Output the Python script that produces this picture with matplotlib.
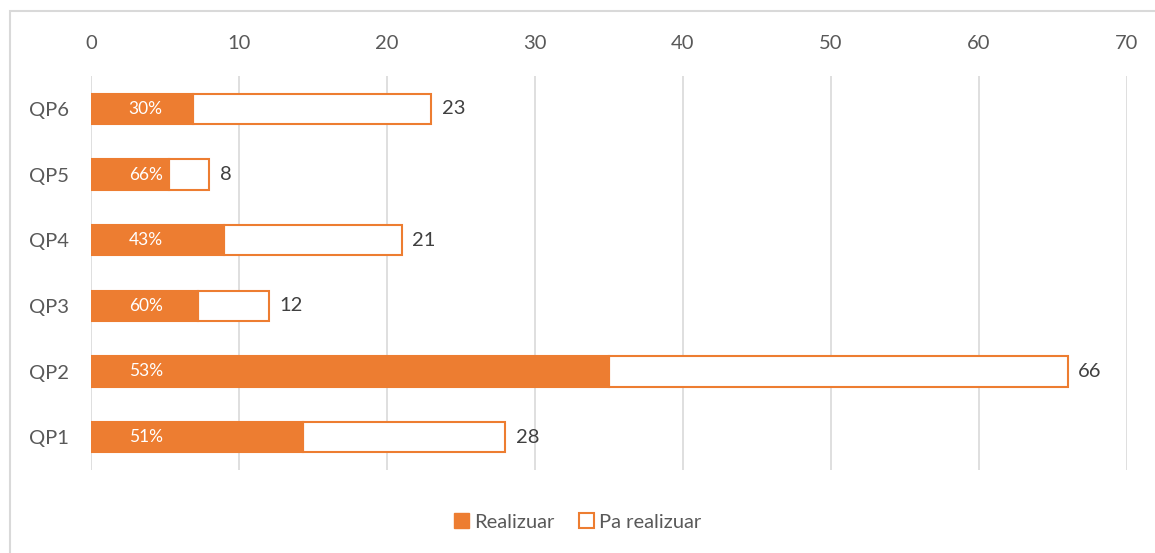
import matplotlib
matplotlib.use("Agg")
import matplotlib.pyplot as plt
from matplotlib.patches import Rectangle, Patch

categories = ["QP1", "QP2", "QP3", "QP4", "QP5", "QP6"]
realizuar = [14.3, 35.0, 7.2, 9.0, 5.3, 6.9]
totals = [28, 66, 12, 21, 8, 23]
pct_labels = ["51%", "53%", "60%", "43%", "66%", "30%"]
ticks = [0, 10, 20, 30, 40, 50, 60, 70]

orange = "#ED7D31"
gray_text = "#595959"

plt.rcParams['font.family'] = ['Lato', 'DejaVu Sans']

fig = plt.figure(figsize=(11.55, 5.53), dpi=100)
ax = fig.add_axes([91/1155, 1-470/553, (1127-91)/1155, (470-76)/553])

y = list(range(len(categories)))
h = 0.46
remaining = [t - r for t, r in zip(totals, realizuar)]
ax.barh(y, remaining, left=realizuar, height=h, color="white",
        edgecolor=orange, linewidth=1.5, zorder=3)
ax.barh(y, realizuar, height=h, color=orange, edgecolor=orange,
        linewidth=1.5, zorder=4)

for yi, t, p in zip(y, totals, pct_labels):
    ax.text(t + 0.7, yi, str(t), va="center", ha="left", fontsize=14.5,
            color="#404040", zorder=5)
    ax.text(3.7, yi, p, va="center", ha="center", fontsize=12.5,
            color="white", zorder=5)

ax.set_xlim(0, 70)
ax.set_ylim(-0.5, 5.5)
ax.set_xticks(ticks)
ax.set_yticks(y)
ax.set_yticklabels(categories)
ax.xaxis.tick_top()
ax.tick_params(axis="both", length=0, labelsize=14.5, colors=gray_text)
ax.tick_params(axis="x", pad=17)
ax.tick_params(axis="y", pad=16)
for s in ax.spines.values():
    s.set_visible(False)
ax.grid(axis="x", color="#d9d9d9", linewidth=1.2, zorder=0)
ax.set_axisbelow(True)

handles = [Patch(facecolor=orange, edgecolor=orange, label="Realizuar"),
           Patch(facecolor="white", edgecolor=orange, linewidth=1.5, label="Pa realizuar")]
leg = fig.legend(handles=handles, loc="center", bbox_to_anchor=(0.5, 1-522/553),
                 ncol=2, frameon=False, fontsize=14.5, handlelength=0.75,
                 handleheight=0.75, handletextpad=0.25, columnspacing=1.2)
for t in leg.get_texts():
    t.set_color(gray_text)

fig.patches.append(Rectangle((10/1155, -0.05), 1.2, 1 - 11/553 + 0.05,
                             transform=fig.transFigure, fill=False,
                             edgecolor="#d9d9d9", linewidth=1.5))

fig.savefig("out.png", dpi=100)
